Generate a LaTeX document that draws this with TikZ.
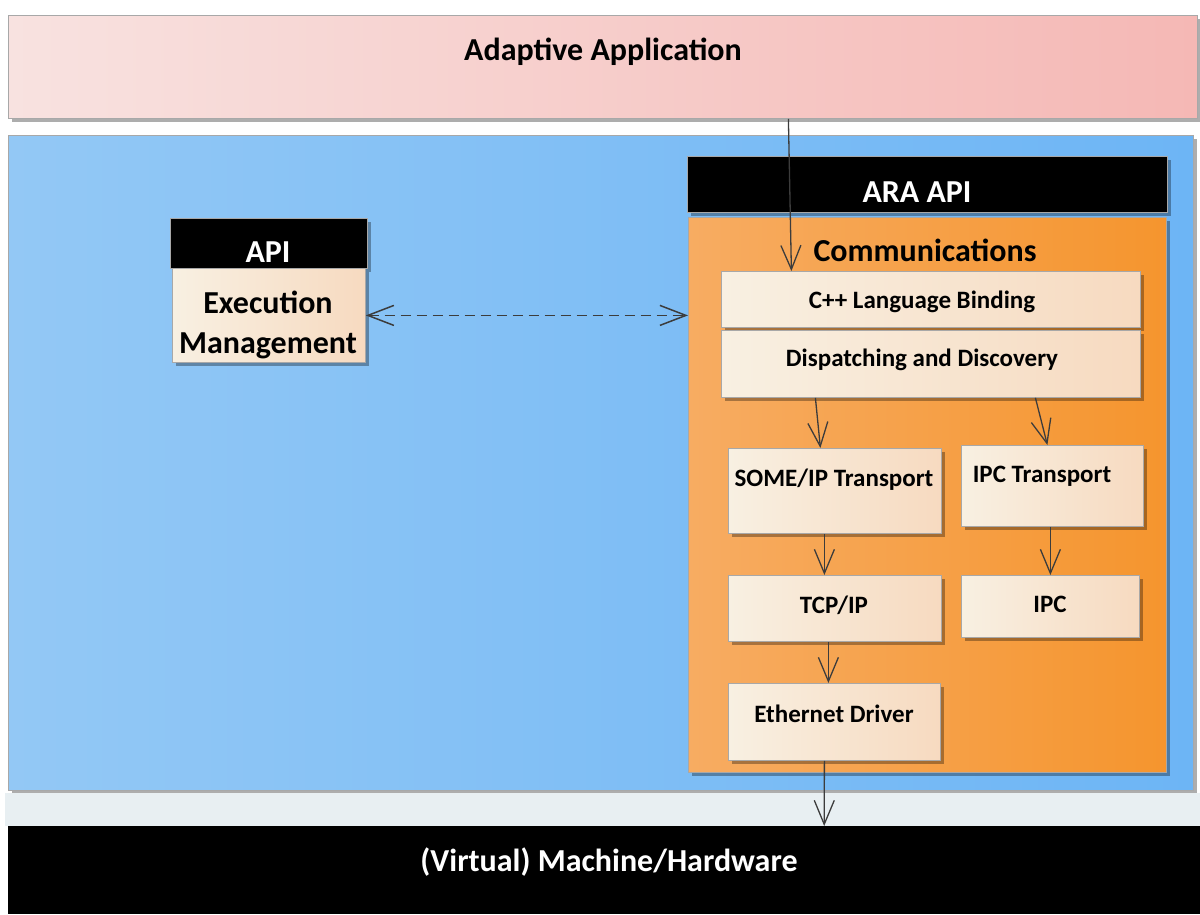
\documentclass[tikz,border=0pt]{standalone}
\usepackage{fontspec}
\setmainfont{Carlito}
\usetikzlibrary{arrows.meta,shadows}

\definecolor{pinkL}{HTML}{F8E2E0}
\definecolor{pinkR}{HTML}{F5B8B5}
\definecolor{blueL}{HTML}{93C8F5}
\definecolor{blueR}{HTML}{6DB5F5}
\definecolor{orangeL}{HTML}{F7AC62}
\definecolor{orangeR}{HTML}{F5952E}
\definecolor{boxL}{HTML}{F8F0E2}
\definecolor{boxR}{HTML}{F7DAC0}
\definecolor{bandC}{HTML}{E8EFF2}
\definecolor{edgeC}{HTML}{A8A8A8}
\definecolor{wireC}{HTML}{3C3C3C}

\begin{document}
\begin{tikzpicture}[x=1pt,y=-1pt,
  panel/.style={draw=edgeC, line width=0.8pt, anchor=north west, inner sep=0pt,
    drop shadow={shadow xshift=4pt, shadow yshift=-4pt, fill=black, opacity=0.32}},
  headbox/.style={panel, fill=black},
  inbox/.style={panel, left color=boxL, right color=boxR},
  lbl/.style={font=\bfseries\fontsize{25}{28}\selectfont, inner sep=0pt},
  title/.style={font=\bfseries\fontsize{32}{40}\selectfont, inner sep=0pt},
  link/.style={draw=wireC, line width=1.3pt,
    -{Straight Barb[length=24pt,width=20pt,line width=1.3pt]}},
  duplex/.style={draw=wireC, line width=1.5pt, dash pattern=on 10pt off 6pt,
    {Straight Barb[length=26pt,width=20pt,line width=1.5pt]}-{Straight Barb[length=26pt,width=20pt,line width=1.5pt]}}
]
\useasboundingbox (0,0) rectangle (1200,914);
\fill[white] (0,0) rectangle (1200,914);

% application layer
\node[panel, left color=pinkL, right color=pinkR, minimum width=1189, minimum height=103] (aa) at (8,15) {};
\node[title] (aaT) at (603,52) {Adaptive Application};

% platform area
\node[panel, left color=blueL, right color=blueR, minimum width=1185, minimum height=655] (plat) at (8,135) {};

% strip and hardware bar
\fill[bandC] (5,793) rectangle (1200,826);
\node[anchor=north west, fill=black, inner sep=0pt, minimum width=1192, minimum height=88] (hw) at (8,826) {};
\node[title, text=white] (hwT) at (609,862) {(Virtual) Machine/Hardware};

% execution management
\node[headbox, minimum width=197, minimum height=50] (apiH) at (170,218) {};
\node[title, text=white] (apiT) at (268,252) {API};
\node[inbox, minimum width=193, minimum height=94] (em) at (172,268) {};
\node[title, align=center] (emT) at (268,325) {Execution\\Management};

% communications cluster
\node[headbox, minimum width=480, minimum height=56] (araH) at (687,156) {};
\node[title, text=white] (araT) at (917,192) {ARA API};
\node[panel, left color=orangeL, right color=orangeR, minimum width=478, minimum height=555] (comm) at (688,217) {};
\node[title] (commT) at (925,250) {Communications};

\node[inbox, minimum width=419, minimum height=56] (cpp) at (721,271) {};
\node[lbl] (cppT) at (922,302) {C++ Language Binding};
\node[inbox, minimum width=419, minimum height=67] (disp) at (721,330) {};
\node[lbl] (dispT) at (922,360) {Dispatching and Discovery};

\node[inbox, minimum width=213, minimum height=85] (someip) at (728,448) {};
\node[lbl] (someipT) at (834,480) {SOME/IP Transport};
\node[inbox, minimum width=182, minimum height=81] (ipct) at (961,445) {};
\node[lbl] (ipctT) at (1042,476) {IPC Transport};

\node[inbox, minimum width=213, minimum height=66] (tcp) at (728,575) {};
\node[lbl] (tcpT) at (834,605) {TCP/IP};
\node[inbox, minimum width=178, minimum height=62] (ipc) at (961,575) {};
\node[lbl] (ipcT) at (1050,604) {IPC};

\node[inbox, minimum width=212, minimum height=77] (eth) at (728,683) {};
\node[lbl] (ethT) at (834,714) {Ethernet Driver};

% connectors
\draw[link] ([xshift=185.5pt]aa.south) -- ([xshift=-139.5pt]cpp.north);
\draw[link] ([xshift=-115.5pt]disp.south) -- ([xshift=-14.5pt]someip.north);
\draw[link] ([xshift=104.5pt]disp.south) -- ([xshift=-5pt]ipct.north);
\draw[link] ([xshift=-10.5pt]someip.south) -- ([xshift=-10.5pt]tcp.north);
\draw[link] ([xshift=-2pt]ipct.south) -- ([xshift=0pt]ipc.north);
\draw[link] ([xshift=-6.5pt]tcp.south) -- ([xshift=-6pt]eth.north);
\draw[link] ([xshift=-10pt]eth.south) -- ([xshift=220pt]hw.north);
\draw[duplex] (em.east) -- (em.east -| comm.west);
\end{tikzpicture}
\end{document}
